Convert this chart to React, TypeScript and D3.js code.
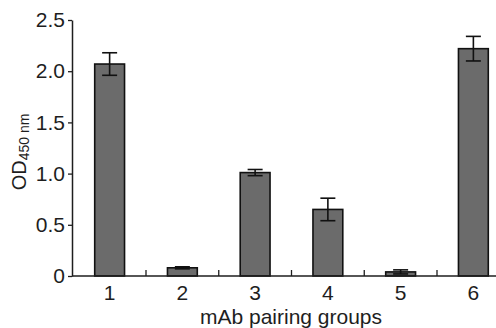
import React, { useEffect, useRef } from "react";
import * as d3 from "d3";

const groups = ["1", "2", "3", "4", "5", "6"];
const means = [2.07, 0.08, 1.01, 0.65, 0.04, 2.22];
const errors = [0.11, 0.01, 0.03, 0.11, 0.02, 0.12];
const yTicks = [0, 0.5, 1.0, 1.5, 2.0, 2.5];

const W = 496;
const H = 328;

function drawChart(node: SVGSVGElement) {
  const root = d3.select(node);
  root.selectAll("*").remove();

  const margin = { top: 20, left: 72 };
  const height = 256;
  const font = "'Liberation Sans', Arial, sans-serif";
  const ink = "#1e1e1e";

  const svg = root
    .append("g")
    .attr("transform", `translate(${margin.left},${margin.top})`);

  // bands run past the right edge, the last one is clipped like the original
  const x = d3
    .scaleBand<string>()
    .domain(groups)
    .range([1.25, 437.75])
    .paddingInner(0.59)
    .paddingOuter(0.295);

  const y = d3.scaleLinear().domain([0, 2.5]).range([height, 0]);

  // bars
  svg
    .selectAll("rect.bar")
    .data(groups)
    .enter()
    .append("rect")
    .attr("class", "bar")
    .attr("x", (d) => x(d)!)
    .attr("y", (d, i) => y(means[i]))
    .attr("width", x.bandwidth())
    .attr("height", (d, i) => height - y(means[i]))
    .attr("fill", "#6b6b6b")
    .attr("stroke", "#111")
    .attr("stroke-width", 1.6);

  // error bars
  const cap = 7.5;
  groups.forEach((g, i) => {
    const cx = x(g)! + x.bandwidth() / 2;
    const top = y(means[i] + errors[i]);
    const bot = y(means[i] - errors[i]);
    const eb = svg.append("g").attr("stroke", "#111").attr("stroke-width", 1.6);
    eb.append("line").attr("x1", cx).attr("x2", cx).attr("y1", top).attr("y2", bot);
    eb.append("line").attr("x1", cx - cap).attr("x2", cx + cap).attr("y1", top).attr("y2", top);
    eb.append("line").attr("x1", cx - cap).attr("x2", cx + cap).attr("y1", bot).attr("y2", bot);
  });

  // x axis line and separator ticks between groups
  svg
    .append("line")
    .attr("x1", 0)
    .attr("x2", W - margin.left)
    .attr("y1", height)
    .attr("y2", height)
    .attr("stroke", ink)
    .attr("stroke-width", 1.5);

  groups.slice(0, -1).forEach((g) => {
    const bx = x(g)! + x.bandwidth() / 2 + x.step() / 2;
    svg
      .append("line")
      .attr("x1", bx)
      .attr("x2", bx)
      .attr("y1", height)
      .attr("y2", height - 6)
      .attr("stroke", ink)
      .attr("stroke-width", 1.3);
  });

  const xAxis = svg
    .append("g")
    .attr("transform", `translate(0,${height})`)
    .call(d3.axisBottom(x).tickSize(0).tickPadding(9));
  xAxis.select(".domain").remove();
  xAxis
    .selectAll("text")
    .attr("font-family", font)
    .attr("font-size", 21)
    .attr("fill", ink);

  // y axis
  const yAxis = svg
    .append("g")
    .call(
      d3
        .axisLeft(y)
        .tickValues(yTicks)
        .tickSize(4)
        .tickSizeOuter(0)
        .tickPadding(3)
        .tickFormat((d) => (+d === 0 ? "0" : (+d).toFixed(1)))
    );
  yAxis.select(".domain").attr("stroke", ink).attr("stroke-width", 1.5);
  yAxis.selectAll(".tick line").attr("stroke", ink).attr("stroke-width", 1.3);
  yAxis
    .selectAll("text")
    .attr("font-family", font)
    .attr("font-size", 21)
    .attr("fill", ink);

  // axis titles
  root
    .append("text")
    .attr("x", 291)
    .attr("y", 324)
    .attr("text-anchor", "middle")
    .attr("font-family", font)
    .attr("font-size", 21)
    .attr("fill", ink)
    .text("mAb pairing groups");

  const yl = root
    .append("text")
    .attr("transform", "translate(26,152) rotate(-90)")
    .attr("text-anchor", "middle")
    .attr("font-family", font)
    .attr("fill", ink);
  yl.append("tspan").attr("font-size", 20).text("OD");
  yl.append("tspan").attr("font-size", 14).attr("dy", 3).text("450 nm");
}

export default function App() {
  const ref = useRef<SVGSVGElement>(null);
  useEffect(() => {
    if (ref.current) drawChart(ref.current);
  }, []);
  return (
    <svg
      ref={ref}
      width={W}
      height={H}
      style={{ position: "absolute", left: 0, top: 0, background: "#fff" }}
    />
  );
}
